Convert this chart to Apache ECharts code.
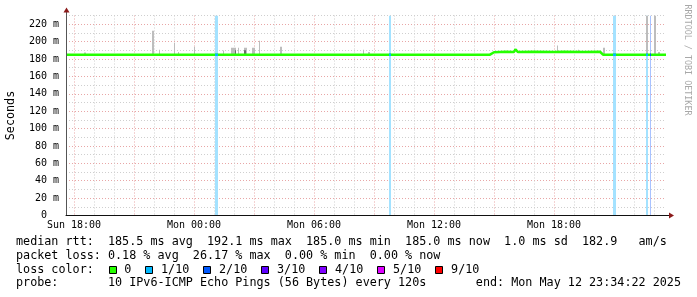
<!DOCTYPE html>
<html><head><meta charset="utf-8">
<script src="https://cdn.jsdelivr.net/npm/echarts@6/dist/echarts.min.js"></script>
<style>html,body{margin:0;padding:0;background:#fff}#c{width:697px;height:297px}</style>
</head><body><div id="c"></div>
<script>
// ---------- data (hours relative to Sun 18:00, values in ms) ----------
const xTickHours = [0, 6, 12, 18, 24];
const xTickLabels = ['Sun 18:00', 'Mon 00:00', 'Mon 06:00', 'Mon 12:00', 'Mon 18:00'];
const yTickValues = [0, 20, 40, 60, 80, 100, 120, 140, 160, 180, 200, 220];

const medianHours = [-0.4, 20.8, 20.9, 21.0, 21.6, 22.0, 22.07, 22.13, 22.2, 23.0, 24.0, 24.5, 25.5, 26.3, 26.4, 26.45, 29.6];
const medianMs    = [185.0, 185.0, 185.6, 187.8, 188.2, 188.0, 191.0, 190.5, 188.0, 188.3, 187.9, 188.2, 188.0, 188.3, 186.0, 185.0, 185.0];

const lossStartHours = [7.03, 15.74, 26.97, 28.58, 28.78];
const lossEndHours   = [7.2, 15.87, 27.08, 28.68, 28.85];
const lossLevels     = [1, 1, 1, 1, 2];

const smokeStartHours = [0.5, 3.9, 4.25, 5.0, 5.2, 6.0, 7.45, 7.85, 8.2, 8.5, 8.9, 9.25, 10.3, 14.43, 14.7, 24.15, 25.2, 26.45, 28.6, 29.0, 29.2];
const smokeEndHours   = [0.6, 4.0, 4.32, 5.05, 5.25, 6.07, 7.52, 8.1, 8.25, 8.65, 9.05, 9.3, 10.4, 14.48, 14.78, 24.2, 25.25, 26.55, 28.68, 29.08, 29.3];
const smokeTopMs      = [187.5, 212.5, 190.5, 198.5, 188, 194, 189.7, 192.8, 192.8, 192.8, 192.8, 201, 194, 190.5, 188, 195.5, 190.5, 193, 230, 230, 188];

const denseStartHours = [8.05, 8.5, 22.1];
const denseEndHours   = [8.12, 8.62, 22.15];
const denseTopMs      = [190, 190, 191];

const lossColorLabels = ['0', '1/10', '2/10', '3/10', '4/10', '5/10', '9/10'];
const lossColors      = ['#26ff00', '#00b8ff', '#0059ff', '#5e00ff', '#7e00ff', '#dd00ff', '#ff0000'];
const lossBgColors    = ['#ffffff', '#a4e2ff', '#a8c2ff', '#c4a8ff', '#d0a8ff', '#f0a8ff', '#ffa8a8'];

const legendRow1 = 'median rtt:  185.5 ms avg  192.1 ms max  185.0 ms min  185.0 ms now  1.0 ms sd  182.9   am/s';
const legendRow2 = 'packet loss: 0.18 % avg  26.17 % max  0.00 % min  0.00 % now';
const legendRow3 = 'loss color:';
const legendRow4 = 'probe:       10 IPv6-ICMP Echo Pings (56 Bytes) every 120s';
const legendEnd  = 'end: Mon May 12 23:34:22 2025';
const yAxisTitle = 'Seconds';
const watermark  = 'RRDTOOL / TOBI OETIKER';

// ---------- layout ----------
const X_MIN = -0.4, X_MAX = 29.6, Y_MIN = 0, Y_MAX = 230;
const MONO = '"DejaVu Sans Mono", monospace';
const LFONT = 11.75, CW = LFONT * 0.60205;

const minorHours = []; for (let h = Math.ceil(X_MIN); h <= X_MAX; h++) if (h % 3 !== 0) minorHours.push(h);
const majorHours = []; for (let h = 0; h <= X_MAX; h += 3) majorHours.push(h);
const minorMs = []; for (let v = 10; v <= Y_MAX; v += 20) minorMs.push(v);
const majorMs = []; for (let v = 20; v < Y_MAX; v += 20) majorMs.push(v);

function medianAt(h) {
  for (let i = 1; i < medianHours.length; i++) {
    if (h <= medianHours[i]) {
      const t = (h - medianHours[i - 1]) / (medianHours[i] - medianHours[i - 1]);
      return medianMs[i - 1] + t * (medianMs[i] - medianMs[i - 1]);
    }
  }
  return medianMs[medianMs.length - 1];
}

const gridMinor = { show: true, lineStyle: { color: '#cfcfcf', width: 1, type: [1, 2] } };
const gridMajor = { show: true, lineStyle: { color: '#e8a6a6', width: 1, type: [1, 2] } };

function rectItem(fillFn) {
  return function (params, api) {
    const p0 = api.coord([api.value(0), api.value(3)]);
    const p1 = api.coord([api.value(1), api.value(2)]);
    const x = Math.round(p0[0]);
    const w = Math.max(1, Math.round(p1[0]) - x);
    return { type: 'rect', shape: { x: x, y: p0[1], width: w, height: p1[1] - p0[1] },
             style: { fill: fillFn(api) } };
  };
}

const chart = echarts.init(document.getElementById('c'), null, { renderer: 'canvas' });

const baseX = { type: 'value', min: X_MIN, max: X_MAX, gridIndex: 0, position: 'bottom', offset: 0 };
const baseY = { type: 'value', min: Y_MIN, max: Y_MAX, gridIndex: 0, position: 'left', offset: 0 };

const option = {
  animation: false,
  backgroundColor: '#ffffff',
  grid: { left: 66, right: 31, top: 15.5, bottom: 81.5 },
  xAxis: [
    Object.assign({}, baseX, { axisLine: { show: false }, axisTick: { show: false, customValues: minorHours },
      axisLabel: { show: false }, splitLine: gridMinor }),
    Object.assign({}, baseX, { axisLine: { show: false }, axisTick: { show: false, customValues: majorHours },
      axisLabel: { show: false }, splitLine: gridMajor }),
    Object.assign({}, baseX, { z: 10, axisLine: { show: true, onZero: false, lineStyle: { color: '#111', width: 1 } },
      axisTick: { show: false, customValues: xTickHours },
      axisLabel: { show: true, customValues: xTickHours, color: '#000', fontFamily: MONO, fontSize: 10, margin: 5,
        formatter: function (v) { const i = xTickHours.indexOf(v); return i >= 0 ? xTickLabels[i] : ''; } },
      splitLine: { show: false } })
  ],
  yAxis: [
    Object.assign({}, baseY, { axisLine: { show: false }, axisTick: { show: false, customValues: minorMs },
      axisLabel: { show: false }, splitLine: gridMinor }),
    Object.assign({}, baseY, { axisLine: { show: false }, axisTick: { show: false, customValues: majorMs },
      axisLabel: { show: false }, splitLine: gridMajor }),
    Object.assign({}, baseY, { z: 10, axisLine: { show: true, onZero: false, lineStyle: { color: '#555', width: 1 } },
      axisTick: { show: false, customValues: yTickValues },
      axisLabel: { show: true, customValues: yTickValues, color: '#000', fontFamily: MONO, fontSize: 10, margin: 7,
        formatter: function (v) { return v === 0 ? '0  ' : v + ' m'; } },
      splitLine: { show: false } })
  ],
  series: [
    { type: 'custom', name: 'lossbg', coordinateSystem: 'cartesian2d', xAxisIndex: 0, yAxisIndex: 0, z: 1, clip: true,
      renderItem: rectItem(function (api) { return lossBgColors[api.value(4)]; }),
      data: lossStartHours.map(function (s, i) { return [s, lossEndHours[i], Y_MIN, Y_MAX, lossLevels[i]]; }) },
    { type: 'custom', name: 'smoke', coordinateSystem: 'cartesian2d', xAxisIndex: 0, yAxisIndex: 0, z: 2, clip: true,
      renderItem: rectItem(function () { return '#bdbdbd'; }),
      data: smokeStartHours.map(function (s, i) { return [s, smokeEndHours[i], medianAt(s) - 1, smokeTopMs[i]]; }) },
    { type: 'custom', name: 'dense', coordinateSystem: 'cartesian2d', xAxisIndex: 0, yAxisIndex: 0, z: 2, clip: true,
      renderItem: rectItem(function () { return '#6a6a6a'; }),
      data: denseStartHours.map(function (s, i) { return [s, denseEndHours[i], medianAt(s) - 1, denseTopMs[i]]; }) },
    { type: 'line', name: 'median', xAxisIndex: 0, yAxisIndex: 0, z: 3, symbol: 'none', silent: true,
      lineStyle: { color: lossColors[0], width: 2.5 },
      data: medianHours.map(function (h, i) { return [h, medianMs[i]]; }) },
    { type: 'custom', name: 'lossmedian', coordinateSystem: 'cartesian2d', xAxisIndex: 0, yAxisIndex: 0, z: 4, clip: true,
      renderItem: function (params, api) {
        const p0 = api.coord([api.value(0), api.value(2)]);
        const p1 = api.coord([api.value(1), api.value(2)]);
        return { type: 'line', shape: { x1: Math.round(p0[0]), y1: p0[1], x2: Math.max(Math.round(p1[0]), Math.round(p0[0]) + 1), y2: p1[1] },
                 style: { stroke: lossColors[api.value(3)], lineWidth: 2.5 } };
      },
      data: lossStartHours.map(function (s, i) { return [s, lossEndHours[i], medianAt(s), lossLevels[i]]; }) }
  ]
};
chart.setOption(option);

// ---------- decorations & legend ----------
const pTop = chart.convertToPixel({ gridIndex: 0 }, [X_MIN, Y_MAX]);
const pEnd = chart.convertToPixel({ gridIndex: 0 }, [X_MAX, Y_MIN]);
const ax = Math.round(pTop[0]) + 0.5, ay = Math.round(pEnd[1]) - 0.5;
const ARROW = '#8b1a1a';
const g = [];
g.push({ type: 'line', z: 20, shape: { x1: ax, y1: pTop[1], x2: ax, y2: pTop[1] - 4 }, style: { stroke: '#555', lineWidth: 1 } });
g.push({ type: 'polygon', z: 21, shape: { points: [[ax, pTop[1] - 8], [ax - 3, pTop[1] - 3], [ax + 3, pTop[1] - 3]] }, style: { fill: ARROW } });
g.push({ type: 'line', z: 20, shape: { x1: pEnd[0], y1: ay, x2: pEnd[0] + 4, y2: ay }, style: { stroke: '#111', lineWidth: 1 } });
g.push({ type: 'polygon', z: 21, shape: { points: [[pEnd[0] + 8, ay], [pEnd[0] + 3, ay - 3], [pEnd[0] + 3, ay + 3]] }, style: { fill: ARROW } });

g.push({ type: 'text', z: 20, x: 11, y: (pTop[1] + pEnd[1]) / 2, rotation: Math.PI / 2,
  style: { text: yAxisTitle, font: LFONT + 'px ' + MONO, fill: '#000', align: 'center', verticalAlign: 'middle' } });
g.push({ type: 'text', z: 20, x: 687.5, y: 60, rotation: -Math.PI / 2,
  style: { text: watermark, font: '8.4px ' + MONO, fill: '#a8a8a8', align: 'center', verticalAlign: 'middle' } });

const LX = 16, ROW0 = 241.7, ROWH = 13.9;
const rows = [legendRow1, legendRow2, legendRow3, legendRow4];
rows.forEach(function (t, i) {
  g.push({ type: 'text', z: 20, style: { text: t, x: LX, y: ROW0 + i * ROWH, font: LFONT + 'px ' + MONO, fill: '#000', align: 'left', verticalAlign: 'middle' } });
});
g.push({ type: 'text', z: 20, style: { text: legendEnd, x: 681, y: ROW0 + 3 * ROWH, font: LFONT + 'px ' + MONO, fill: '#000', align: 'right', verticalAlign: 'middle' } });

let col = legendRow3.length + 2 + 2.3;
const r3 = ROW0 + 2 * ROWH;
lossColorLabels.forEach(function (lab, i) {
  const bx = Math.round(LX + (col - 2.2) * CW) + 0.5;
  g.push({ type: 'rect', z: 20, shape: { x: bx, y: Math.round(r3 - 4) + 0.5, width: 7, height: 7 }, style: { fill: lossColors[i], stroke: '#000', lineWidth: 1 } });
  g.push({ type: 'text', z: 20, style: { text: lab, x: LX + col * CW, y: r3, font: LFONT + 'px ' + MONO, fill: '#000', align: 'left', verticalAlign: 'middle' } });
  col += lab.length + 2 + 2.2;
});
chart.setOption({ graphic: g });
</script>
</body></html>
